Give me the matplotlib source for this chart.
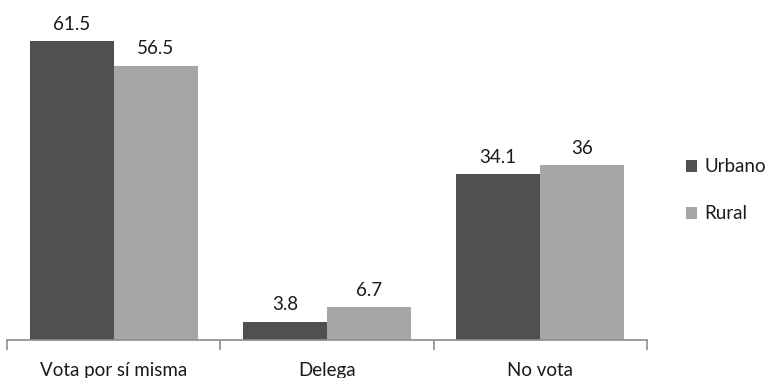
import matplotlib
matplotlib.use("Agg")
import matplotlib.pyplot as plt
import numpy as np

categories = ["Vota por sí misma", "Delega", "No vota"]
urbano = [61.5, 3.8, 34.1]
rural = [56.5, 6.7, 36]
series_names = ["Urbano", "Rural"]
colors = ["#505050", "#a6a6a6"]

plt.rcParams["font.family"] = ["Lato", "DejaVu Sans"]

fig = plt.figure(figsize=(7.65, 3.78), dpi=100)
ax = fig.add_axes([0.0098, 0.1005, 0.8353, 0.8995])

x = np.arange(len(categories))
w = 0.394
for vals, off, col, name in zip([urbano, rural], [-w / 2, w / 2], colors, series_names):
    bars = ax.bar(x + off, vals, width=w, color=col, label=name)
    for b, v in zip(bars, vals):
        ax.annotate(f"{v:g}", (b.get_x() + b.get_width() / 2, v),
                    xytext=(0, 6), textcoords="offset points",
                    ha="center", va="bottom", fontsize=13.5, color="#1a1a1a")

ax.set_xlim(-0.5, len(categories) - 0.5)
ax.set_ylim(0, 70)
ax.set_yticks([])
for s in ["top", "right", "left"]:
    ax.spines[s].set_visible(False)
ax.spines["bottom"].set_color("#8c8c8c")
ax.spines["bottom"].set_linewidth(1.2)

ax.set_xticks(x)
ax.set_xticklabels(categories, fontsize=13.5, color="#1a1a1a")
ax.tick_params(axis="x", which="major", length=0, pad=16)
ax.set_xticks(np.arange(len(categories) + 1) - 0.5, minor=True)
ax.tick_params(axis="x", which="minor", length=7, width=1.2, color="#8c8c8c")

leg = ax.legend(loc="center left", bbox_to_anchor=(1.035, 0.44), frameon=False,
                fontsize=13.5, handlelength=0.6, handleheight=0.6,
                handletextpad=0.4, labelspacing=1.6)
for t in leg.get_texts():
    t.set_color("#1a1a1a")

fig.savefig("out.png", dpi=100)
